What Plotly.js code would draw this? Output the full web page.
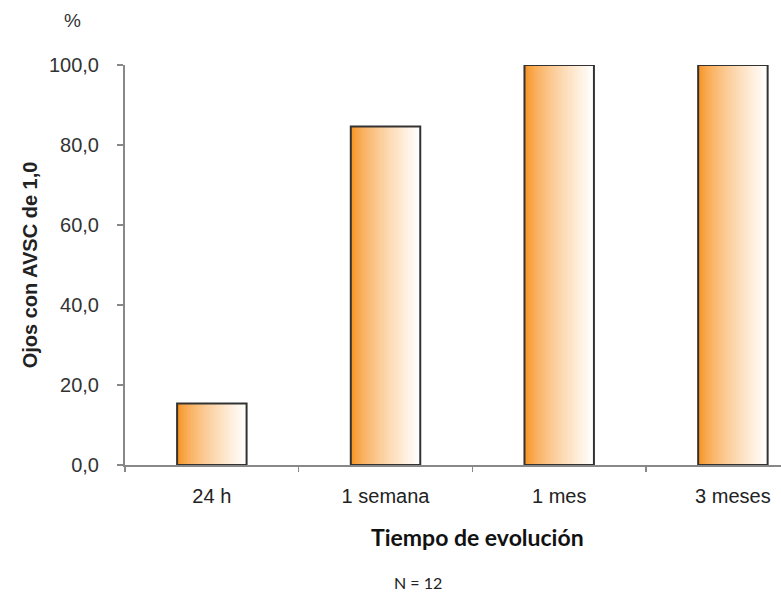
<!DOCTYPE html>
<html>
<head>
<meta charset="utf-8">
<script src="https://cdn.plot.ly/plotly-3.0.1.min.js"></script>
<style>html,body{margin:0;padding:0;background:#fff;}#chart{width:781px;height:598px;}</style>
</head>
<body>
<div id="chart"></div>
<script>
var categories = ['24 h', '1 semana', '1 mes', '3 meses'];
var values = [15.4, 84.6, 100.0, 100.0];
var yTickVals = [0, 20, 40, 60, 80, 100];
var yTitle = 'Ojos con AVSC de 1,0';
var xTitle = 'Tiempo de evolución';
var unitLabel = '%';
var noteLabel = 'N = 12';

var barWidth = 0.4;
var nSlices = 40;
var c0 = [247, 145, 30], c1 = [255, 255, 255];
var traces = [];
for (var i = 0; i < nSlices; i++) {
  var t = i / (nSlices - 1);
  var s = Math.pow(t, 0.7);
  var col = 'rgb(' + c0.map(function (v, k) { return Math.round(v + (c1[k] - v) * s); }).join(',') + ')';
  traces.push({
    type: 'bar', x: categories, y: values,
    width: barWidth - i * barWidth / nSlices,
    offset: -barWidth / 2 + i * barWidth / nSlices,
    marker: {color: col, line: {width: 0}},
    hoverinfo: 'skip', showlegend: false
  });
}
traces.push({
  type: 'bar', x: categories, y: values, width: barWidth,
  marker: {color: 'rgba(0,0,0,0)', line: {color: '#333', width: 2}},
  showlegend: false
});

var sans = 'Liberation Sans, Arial, sans-serif';
var layout = {
  width: 781, height: 598,
  margin: {l: 125, r: 0, t: 65, b: 133},
  paper_bgcolor: '#fff', plot_bgcolor: '#fff',
  barmode: 'overlay',
  separators: ',.',
  font: {family: sans, color: '#333', size: 16},
  xaxis: {
    range: [-0.5, 3.277], showgrid: false, zeroline: false,
    showline: true, linecolor: '#888', linewidth: 2,
    ticks: 'outside', tickson: 'boundaries', ticklen: 5, tickcolor: '#888', tickwidth: 1.5,
    ticklabelstandoff: 12,
    tickfont: {family: sans, size: 20, color: '#222'},
    fixedrange: true
  },
  yaxis: {
    range: [0, 100], tickvals: yTickVals, tickformat: '.1f',
    showgrid: false, zeroline: false,
    showline: true, linecolor: '#888', linewidth: 2,
    ticks: 'outside', ticklen: 6, tickcolor: '#888', tickwidth: 1.5,
    ticklabelstandoff: 14,
    tickfont: {family: sans, size: 20, color: '#333'},
    title: {text: '<b>' + yTitle + '</b>', standoff: 6,
            font: {family: sans, size: 20, color: '#222'}},
    fixedrange: true
  },
  annotations: [
    {text: unitLabel, xref: 'paper', yref: 'paper', x: 0, y: 1, xshift: -53, yshift: 45,
     yanchor: 'middle', xanchor: 'center',
     showarrow: false, font: {family: sans, size: 19, color: '#333'}},
    {text: '<b>' + xTitle + '</b>', xref: 'x', yref: 'paper', x: 1.5, y: 0, xshift: 5, yshift: -72,
     yanchor: 'middle', xanchor: 'center',
     showarrow: false, font: {family: 'Lato, sans-serif', size: 23, color: '#111'}},
    {text: noteLabel, xref: 'x', yref: 'paper', x: 1.5, y: 0, xshift: -54, yshift: -117,
     yanchor: 'middle', xanchor: 'center',
     showarrow: false, font: {family: 'Lato, sans-serif', size: 16, color: '#222'}}
  ]
};
Plotly.newPlot('chart', traces, layout, {displayModeBar: false, staticPlot: true});
</script>
</body>
</html>
